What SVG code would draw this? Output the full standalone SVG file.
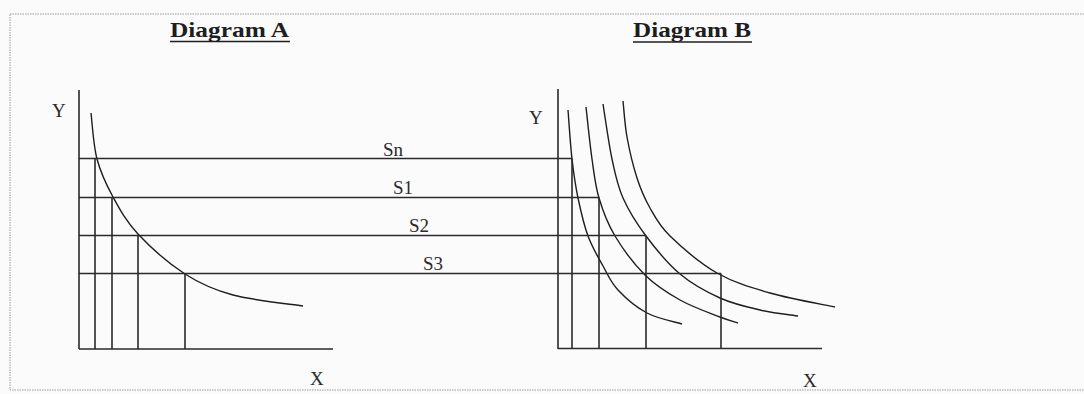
<svg xmlns="http://www.w3.org/2000/svg" width="1084" height="394" viewBox="0 0 1084 394">
  <style>
    .ln { stroke: #2a2a2a; stroke-width: 1.6; fill: none; }
    .cv { stroke: #1e1e1e; stroke-width: 1.4; fill: none; }
    .lbl { font-family: "Liberation Serif", "Times New Roman", serif; font-size: 19px; fill: #2a2a2a; }
    .ttl { font-family: "Liberation Serif", "Times New Roman", serif; font-size: 22px; font-weight: bold; fill: #1e1e1e; }
    .ul { stroke: #1e1e1e; stroke-width: 1.6; }
  </style>
  <rect x="0" y="0" width="1084" height="394" fill="#fbfbfb"/>
  <rect x="10" y="14" width="1085" height="376" fill="none" stroke="#9a9a9a" stroke-width="1" stroke-dasharray="1.5,1"/>

  <g id="title-a">
    <text class="ttl" x="170" y="37" textLength="119" lengthAdjust="spacingAndGlyphs">Diagram A</text>
    <line class="ul" x1="170" y1="41.5" x2="290" y2="41.5"/>
  </g>
  <g id="title-b">
    <text class="ttl" x="633" y="37" textLength="118" lengthAdjust="spacingAndGlyphs">Diagram B</text>
    <line class="ul" x1="633" y1="42" x2="752" y2="42"/>
  </g>

  <g id="axes-a">
    <line class="ln" x1="79" y1="90" x2="79" y2="349"/>
    <line class="ln" x1="79" y1="349" x2="333" y2="349"/>
    <text class="lbl" x="52" y="117">Y</text>
    <text class="lbl" x="310" y="385">X</text>
  </g>
  <g id="curve-a">
    <path class="cv" d="M91,113 C92,120.7 93.3,145 97,159 C100.7,173 106.2,184.5 113,197 C119.8,209.5 126,221.2 138,234 C150,246.8 169.2,263.8 185,274 C200.8,284.2 213.3,289.7 233,295 C252.7,300.3 291.3,304.2 303,306"/>
  </g>

  <g id="axes-b">
    <line class="ln" x1="558" y1="89" x2="558" y2="349"/>
    <line class="ln" x1="558" y1="348.5" x2="822" y2="348.5"/>
    <text class="lbl" x="529" y="124">Y</text>
    <text class="lbl" x="803" y="387">X</text>
  </g>
  <g id="curves-b">
    <path class="cv" d="M568,110 C568.7,118.2 570.3,144.3 572,159 C573.7,173.7 575.3,185.2 578,198 C580.7,210.8 583.8,224.7 588,236 C592.2,247.3 598,257 603,266 C608,275 610.7,282.2 618,290 C625.3,297.8 636.3,307.3 647,313 C657.7,318.7 676.2,322.2 682,324"/>
    <path class="cv" d="M586,107 C587,115.7 589.8,143.8 592,159 C594.2,174.2 595.2,185.2 599,198 C602.8,210.8 607.3,223.2 615,236 C622.7,248.8 634.2,264.3 645,275 C655.8,285.7 667.5,293 680,300 C692.5,307 710.3,313.2 720,317 C729.7,320.8 735,322 738,323"/>
    <path class="cv" d="M603,104 C604.5,113.2 608.7,143.3 612,159 C615.3,174.7 617.3,185.2 623,198 C628.7,210.8 636.5,223.3 646,236 C655.5,248.7 667.7,263.7 680,274 C692.3,284.3 706.7,292 720,298 C733.3,304 747,307 760,310 C773,313 791.7,315 798,316"/>
    <path class="cv" d="M623,101 C623.7,107 624.7,124.2 627,137 C629.3,149.8 633.2,166.2 637,178 C640.8,189.8 644.5,198.3 650,208 C655.5,217.7 658.8,225.2 670,236 C681.2,246.8 700.3,263.5 717,273 C733.7,282.5 750.3,287.3 770,293 C789.7,298.7 824.2,304.7 835,307"/>
  </g>

  <g id="connectors">
    <line class="ln" x1="79" y1="158.5" x2="572" y2="158.5"/>
    <line class="ln" x1="79" y1="197.5" x2="599" y2="197.5"/>
    <line class="ln" x1="79" y1="235.5" x2="646" y2="235.5"/>
    <line class="ln" x1="79" y1="273.5" x2="721" y2="273.5"/>
    <line class="ln" x1="95" y1="158.5" x2="95" y2="349"/>
    <line class="ln" x1="112" y1="197.5" x2="112" y2="349"/>
    <line class="ln" x1="138" y1="235.5" x2="138" y2="349"/>
    <line class="ln" x1="185" y1="273.5" x2="185" y2="349"/>
    <line class="ln" x1="572" y1="158.5" x2="572" y2="349"/>
    <line class="ln" x1="599" y1="197.5" x2="599" y2="349"/>
    <line class="ln" x1="646" y1="235.5" x2="646" y2="349"/>
    <line class="ln" x1="721" y1="273.5" x2="721" y2="349"/>
  </g>

  <g id="labels">
    <text class="lbl" x="383" y="156">Sn</text>
    <text class="lbl" x="393" y="194">S1</text>
    <text class="lbl" x="409" y="232">S2</text>
    <text class="lbl" x="423" y="270">S3</text>
  </g>
</svg>
